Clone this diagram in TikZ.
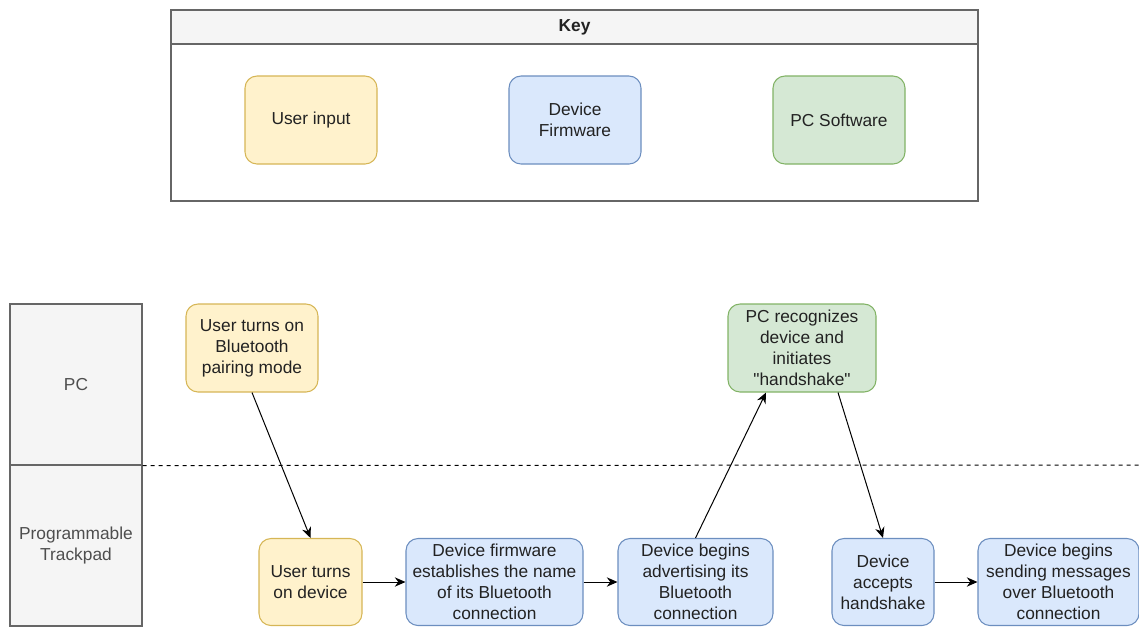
\documentclass[tikz,border=0pt]{standalone}
\usepackage{fontspec}
\setmainfont{Liberation Sans}
\usetikzlibrary{arrows.meta,positioning}
\definecolor{userfill}{HTML}{FFF2CC}
\definecolor{userline}{HTML}{D6B656}
\definecolor{fwfill}{HTML}{DAE8FC}
\definecolor{fwline}{HTML}{6C8EBF}
\definecolor{pcfill}{HTML}{D5E8D4}
\definecolor{pcline}{HTML}{82B366}
\definecolor{lanefill}{HTML}{F5F5F5}
\definecolor{laneline}{HTML}{666666}
\definecolor{inkgray}{HTML}{222222}
\begin{document}
\begin{tikzpicture}[x=0.75pt,y=-0.75pt,>={Stealth[length=8pt,width=7pt]},
  box/.style={rectangle,rounded corners=9pt,draw,line width=0.8pt,align=center,
    inner sep=0pt,text=inkgray,font=\fontsize{13}{15.75}\selectfont},
  user/.style={box,fill=userfill,draw=userline},
  fw/.style={box,fill=fwfill,draw=fwline},
  pcsw/.style={box,fill=pcfill,draw=pcline},
  lane/.style={rectangle,draw=laneline,fill=lanefill,line width=0.8pt,align=center,
    inner sep=0pt,text=inkgray!80,font=\fontsize{13}{15.75}\selectfont,
    minimum width=99pt,minimum height=120.75pt}]
\useasboundingbox (0,0) rectangle (1139,626);
\clip (0,0) rectangle (1139,626);
% key
\node[rectangle,draw=laneline,fill=white,line width=0.8pt,minimum width=605.25pt,
  minimum height=143.25pt,inner sep=0pt] (keybody) at (574.5,105.5) {};
\node[rectangle,draw=laneline,fill=lanefill,line width=0.8pt,minimum width=605.25pt,
  minimum height=25.5pt,inner sep=0pt,font=\fontsize{13}{15.75}\selectfont\bfseries,
  text=inkgray] (keyhead) at (574.5,27) {Key};
\node[user,minimum width=99pt,minimum height=66pt] (keyuser) at (311,120) {User input};
\node[fw,minimum width=99pt,minimum height=66pt] (keyfw) at (575,120) {Device\\Firmware};
\node[pcsw,minimum width=99pt,minimum height=66pt] (keypc) at (839,120) {PC Software};
% lanes
\node[lane] (pclane) at (76,384.5) {PC};
\node[lane] (padlane) at (76,545.5) {Programmable\\Trackpad};
\coordinate (lineend) at (1139,465);
\draw[dashed,dash pattern=on 3pt off 3pt,line width=0.75pt] (pclane.south east) -- (lineend);
% steps
\node[user,minimum width=99pt,minimum height=66pt] (pairing) at (252,348)
  {User turns on\\Bluetooth\\pairing mode};
\node[pcsw,minimum width=111pt,minimum height=66pt] (handshake) at (802,348)
  {PC recognizes\\device and\\initiates\\\textquotedbl handshake\textquotedbl};
\node[user,minimum width=77.25pt,minimum height=65.25pt] (turnon) at (310.5,582)
  {User turns\\on device};
\node[fw,minimum width=132.75pt,minimum height=65.25pt] (firmware) at (494.5,582)
  {Device firmware\\establishes the name\\of its Bluetooth\\connection};
\node[fw,minimum width=116.25pt,minimum height=65.25pt] (advert) at (695.5,582)
  {Device begins\\advertising its\\Bluetooth\\connection};
\node[fw,minimum width=76.5pt,minimum height=65.25pt] (accepts) at (883,582)
  {Device\\accepts\\handshake};
\node[fw,minimum width=120.75pt,minimum height=65.25pt] (sending) at (1058.5,582)
  {Device begins\\sending messages\\over Bluetooth\\connection};
% flow
\draw[->,line width=0.75pt] (pairing.south) -- (turnon.north);
\draw[->,line width=0.75pt] (turnon) -- (firmware);
\draw[->,line width=0.75pt] (firmware) -- (advert);
\draw[->,line width=0.75pt] (advert.north) -- ([xshift=-27pt]handshake.south);
\draw[->,line width=0.75pt] ([xshift=27pt]handshake.south) -- (accepts.north);
\draw[->,line width=0.75pt] (accepts) -- (sending);
\end{tikzpicture}
\end{document}
